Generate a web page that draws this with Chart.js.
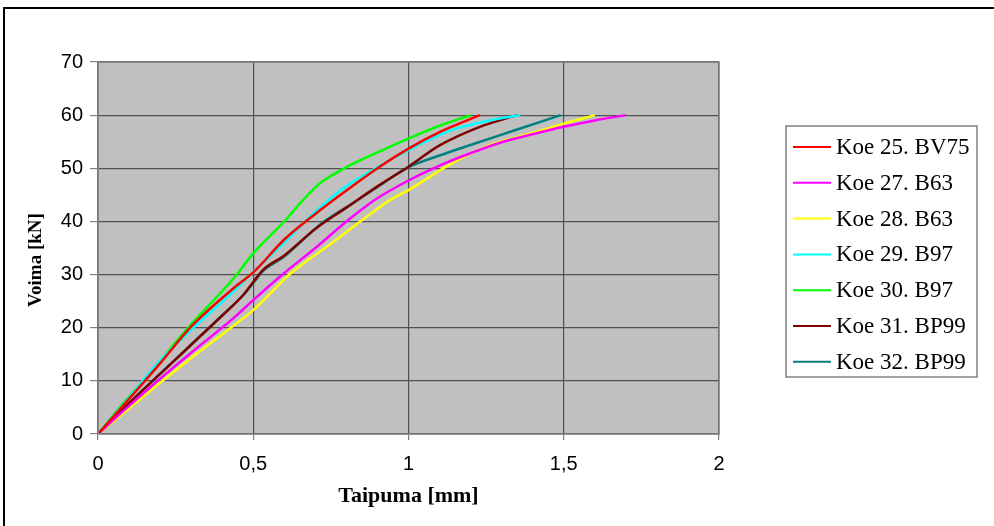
<!DOCTYPE html>
<html>
<head>
<meta charset="utf-8">
<script src="https://cdn.jsdelivr.net/npm/chart.js@4.4.1/dist/chart.umd.min.js"></script>
<style>
  body { margin: 0; background: #fff; overflow: hidden; }
  #wrap { position: relative; width: 994px; height: 526px; }
  .edge { position: absolute; background: #000; pointer-events: none; }
  canvas { position: absolute; left: 0; top: 0; }
</style>
</head>
<body>
<div id="wrap">
  <canvas id="line-chart" width="994" height="526"></canvas>
  <div class="edge" style="left:3px; top:7px; width:991px; height:2px;"></div>
  <div class="edge" style="left:3px; top:7px; width:2px; height:519px;"></div>
</div>
<script>
// taipuma [mm] / voima [kN] per koekappale
const koe25 = [[0,0],[0.1,6.6],[0.2,13.3],[0.3,20.2],[0.44,27.6],[0.5,30.4],[0.6,36.6],[0.7,41.4],[0.8,45.8],[0.9,50],[1.0,53.7],[1.1,56.8],[1.23,60]];
const koe27 = [[0,0],[0.1,5.3],[0.2,10.4],[0.3,15.3],[0.44,22],[0.5,25.2],[0.6,30.3],[0.7,35],[0.8,40],[0.89,44],[1.0,47.7],[1.1,50.5],[1.18,52.4],[1.3,54.9],[1.4,56.4],[1.5,57.8],[1.6,59],[1.7,60]];
const koe28 = [[0,0],[0.1,4.8],[0.21,10.1],[0.3,14.3],[0.43,20.1],[0.5,23.3],[0.62,30.2],[0.75,35.8],[0.85,40.2],[0.94,44],[1.0,45.9],[1.13,50.6],[1.26,54.3],[1.39,56.5],[1.5,58.4],[1.6,60]];
const koe29 = [[0,0],[0.1,6.8],[0.19,13.2],[0.3,19.6],[0.44,27],[0.5,30.5],[0.6,36],[0.67,40.2],[0.73,43.4],[0.8,46.6],[0.9,50.2],[1.0,53.4],[1.13,57],[1.28,59.2],[1.36,60]];
const koe30 = [[0,0],[0.07,5],[0.15,10.3],[0.29,20],[0.44,29.5],[0.5,34],[0.6,40],[0.66,44],[0.72,47.4],[0.8,50.2],[0.9,53],[1.0,55.6],[1.1,58],[1.2,60]];
const koe31 = [[0,0],[0.1,5.8],[0.2,11.3],[0.3,16.8],[0.4,22.3],[0.47,26.3],[0.5,28.6],[0.53,30.8],[0.6,33.6],[0.7,38.6],[0.8,42.6],[0.9,46.6],[1.0,50.3],[1.1,54.3],[1.23,57.8],[1.35,60]];
const koe32 = [[0,0],[0.1,5.8],[0.2,11.3],[0.3,16.8],[0.4,22.3],[0.47,26.3],[0.5,28.4],[0.53,30.6],[0.6,33.4],[0.72,39.6],[0.82,43.4],[0.9,46.5],[1.0,50.2],[1.1,52.4],[1.18,54],[1.34,57.1],[1.49,60]];

const seriesNames = ['Koe 25. BV75', 'Koe 27. B63', 'Koe 28. B63', 'Koe 29. B97', 'Koe 30. B97', 'Koe 31. BP99', 'Koe 32. BP99'];
const seriesData = [koe25, koe27, koe28, koe29, koe30, koe31, koe32];
const seriesColors = ['#ff0000', '#ff00ff', '#ffff00', '#00ffff', '#00ff00', '#800000', '#008080'];

const xTicks = [0, 0.5, 1, 1.5, 2];
const yTicks = [0, 10, 20, 30, 40, 50, 60, 70];

const serif = '"Liberation Serif", "Times New Roman", serif';
const sans = '"Liberation Sans", Arial, sans-serif';

// grey plot background + outline
const plotArea = {
    id: 'plotArea',
    beforeDraw(chart) {
        const { ctx, chartArea: a } = chart;
        ctx.save();
        ctx.fillStyle = '#c0c0c0';
        ctx.fillRect(a.left, a.top, a.right - a.left, a.bottom - a.top);
        ctx.restore();
    },
    afterDatasetsDraw(chart) {
        const { ctx, chartArea: a } = chart;
        ctx.save();
        ctx.strokeStyle = '#808080';
        ctx.lineWidth = 1.5;
        ctx.strokeRect(a.left, a.top, a.right - a.left, a.bottom - a.top);
        ctx.restore();
    }
};

// y axis title and boxed legend on the right
const extras = {
    id: 'extras',
    afterDraw(chart) {
        const ctx = chart.ctx;
        ctx.save();
        ctx.fillStyle = '#000';
        ctx.font = 'bold 19px ' + serif;
        ctx.textAlign = 'center';
        ctx.textBaseline = 'middle';
        ctx.translate(36, 260);
        ctx.rotate(-Math.PI / 2);
        ctx.fillText('Voima [kN]', 0, 0);
        ctx.restore();

        ctx.save();
        ctx.fillStyle = '#fff';
        ctx.fillRect(786, 126, 191, 251);
        ctx.strokeStyle = '#808080';
        ctx.lineWidth = 1.5;
        ctx.strokeRect(786, 126, 191, 251);
        ctx.font = '23px ' + serif;
        ctx.textBaseline = 'middle';
        ctx.textAlign = 'left';
        chart.data.datasets.forEach((ds, i) => {
            const y = 147 + i * 35.8;
            ctx.strokeStyle = ds.borderColor;
            ctx.lineWidth = 2;
            ctx.beginPath();
            ctx.moveTo(793, y);
            ctx.lineTo(831, y);
            ctx.stroke();
            ctx.fillStyle = '#000';
            ctx.fillText(ds.label, 836, y + 1);
        });
        ctx.restore();
    }
};

const ctx = document.getElementById('line-chart').getContext('2d');
const chart = new Chart(ctx, {
    type: 'scatter',
    plugins: [plotArea, extras],
    data: {
        datasets: seriesNames.map((name, i) => ({
            label: name,
            data: seriesData[i].map(p => ({ x: p[0], y: p[1] })),
            showLine: true,
            borderColor: seriesColors[i],
            backgroundColor: seriesColors[i],
            borderWidth: 2.5,
            pointRadius: 0,
            cubicInterpolationMode: 'monotone'
        }))
    },
    options: {
        responsive: false,
        animation: false,
        layout: { padding: { left: 0, top: 62, right: 275, bottom: 0 } },
        plugins: {
            legend: { display: false },
            tooltip: { enabled: false }
        },
        scales: {
            x: {
                type: 'linear',
                min: xTicks[0],
                max: xTicks[xTicks.length - 1],
                afterFit: s => { s.height = 92; },
                afterBuildTicks: s => { s.ticks = xTicks.map(v => ({ value: v })); },
                grid: { color: '#505050', lineWidth: 1.2, tickLength: 6, tickColor: '#808080' },
                border: { display: false },
                ticks: {
                    color: '#000',
                    font: { family: sans, size: 20 },
                    padding: 12,
                    callback: v => String(v).replace('.', ',')
                },
                title: {
                    display: true,
                    text: 'Taipuma [mm]',
                    color: '#000',
                    font: { family: serif, size: 22, weight: 'bold' },
                    padding: { top: 0, bottom: 16 }
                }
            },
            y: {
                type: 'linear',
                min: yTicks[0],
                max: yTicks[yTicks.length - 1],
                afterFit: s => { s.width = 98; },
                afterBuildTicks: s => { s.ticks = yTicks.map(v => ({ value: v })); },
                grid: { color: '#505050', lineWidth: 1.2, tickLength: 8, tickColor: '#808080' },
                border: { display: false },
                ticks: {
                    color: '#000',
                    font: { family: sans, size: 20 },
                    padding: 7
                }
            }
        }
    }
});
</script>
</body>
</html>
